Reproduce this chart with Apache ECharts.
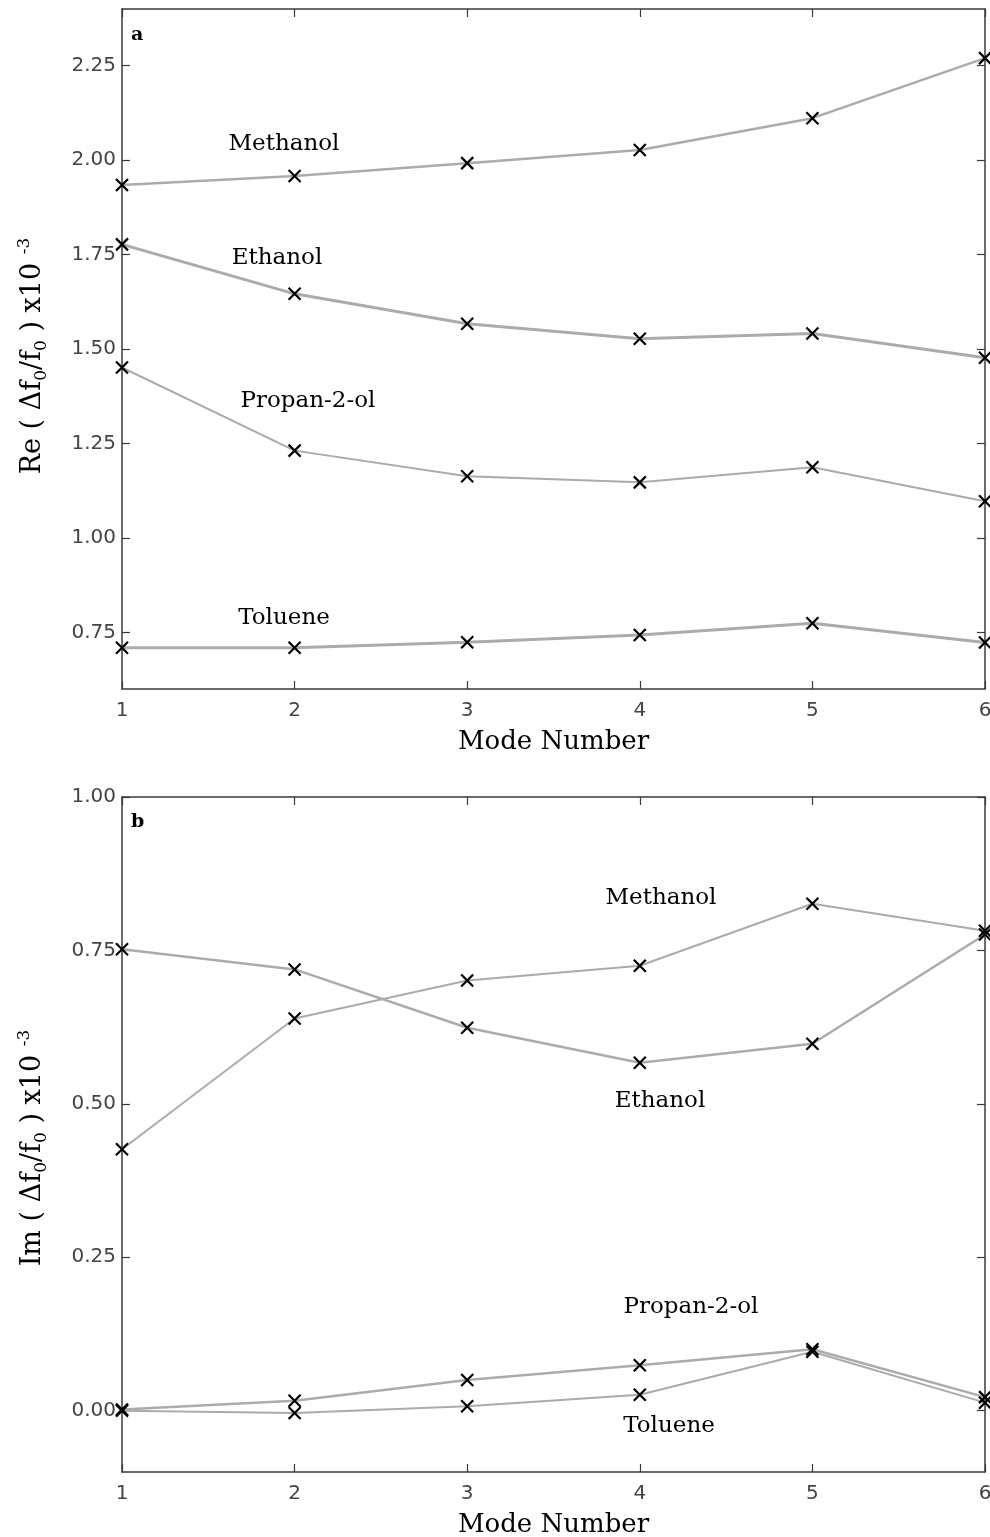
<!DOCTYPE html>
<html>
<head>
<meta charset="utf-8">
<script src="https://cdn.jsdelivr.net/npm/echarts@6/dist/echarts.min.js"></script>
<style>
html,body{margin:0;padding:0;background:#fff;overflow:hidden;}
#chart{width:990px;height:1537px;}
</style>
</head>
<body>
<div id="chart"></div>
<script>
// Mode numbers
var modes = [1, 2, 3, 4, 5, 6];
// Panel a: Re(Δf0/f0) x10^-3
var reMethanol = [1.934, 1.958, 1.992, 2.027, 2.111, 2.270];
var reEthanol  = [1.777, 1.646, 1.567, 1.527, 1.541, 1.477];
var rePropanol = [1.451, 1.231, 1.163, 1.147, 1.187, 1.097];
var reToluene  = [0.709, 0.709, 0.724, 0.743, 0.774, 0.723];
// Panel b: Im(Δf0/f0) x10^-3
var imMethanol = [0.426, 0.639, 0.701, 0.725, 0.826, 0.782];
var imEthanol  = [0.752, 0.719, 0.624, 0.567, 0.598, 0.776];
var imPropanol = [0.002, 0.016, 0.050, 0.074, 0.100, 0.022];
var imToluene  = [0.000, -0.004, 0.007, 0.026, 0.096, 0.013];
// Tick labels
var reTicks = [0.75, 1.00, 1.25, 1.50, 1.75, 2.00, 2.25];
var imTicks = [0.00, 0.25, 0.50, 0.75, 1.00];
var xTicks = [1, 2, 3, 4, 5, 6];

function pairs(ys) { return modes.map(function (m, i) { return [m, ys[i]]; }); }

var chart = echarts.init(document.getElementById('chart'), null, {renderer: 'canvas'});
var axisColor = '#3a3a3a';
var tickLabel = {fontFamily: 'DejaVu Sans', fontSize: 20, color: '#444'};
var serif = 'DejaVu Serif';

function xAxisPair(gi) {
  return [{
    gridIndex: gi, type: 'value', min: 1, max: 6, interval: 1, position: 'bottom',
    axisLine: {show: true, onZero: false, lineStyle: {color: axisColor, width: 1.5}},
    axisTick: {show: true, inside: true, length: 8, customValues: xTicks, lineStyle: {color: axisColor, width: 1.2}},
    axisLabel: Object.assign({margin: 12, customValues: xTicks, formatter: function (v) { return String(v); }}, tickLabel),
    splitLine: {show: false},
    name: 'Mode Number', nameLocation: 'middle', nameGap: 40,
    nameTextStyle: {fontFamily: serif, fontSize: 26, color: '#000'}
  }, {
    gridIndex: gi, type: 'value', min: 1, max: 6, interval: 1, position: 'top',
    axisLine: {show: true, onZero: false, lineStyle: {color: axisColor, width: 1.5}},
    axisTick: {show: true, inside: true, length: 8, customValues: xTicks, lineStyle: {color: axisColor, width: 1.2}},
    axisLabel: {show: false}, splitLine: {show: false}
  }];
}
function yAxisPair(gi, mn, mx, ticks) {
  return [{
    gridIndex: gi, type: 'value', min: mn, max: mx, position: 'left',
    axisLine: {show: true, onZero: false, lineStyle: {color: axisColor, width: 1.5}},
    axisTick: {show: true, inside: true, length: 8, customValues: ticks, lineStyle: {color: axisColor, width: 1.2}},
    axisLabel: Object.assign({margin: 6, customValues: ticks, formatter: function (v) { return v.toFixed(2); }}, tickLabel),
    splitLine: {show: false}
  }, {
    gridIndex: gi, type: 'value', min: mn, max: mx, position: 'right',
    axisLine: {show: true, onZero: false, lineStyle: {color: axisColor, width: 1.5}},
    axisTick: {show: true, inside: true, length: 8, customValues: ticks, lineStyle: {color: axisColor, width: 1.2}},
    axisLabel: {show: false}, splitLine: {show: false}
  }];
}
var xSym = 'path://M0,0L10,10M10,0L0,10';
function series(xi, yi, data, w) {
  return {
    type: 'line', xAxisIndex: xi, yAxisIndex: yi, data: pairs(data), clip: false,
    lineStyle: {color: '#ababab', width: w},
    symbol: xSym, symbolSize: 12, showSymbol: true,
    itemStyle: {color: 'rgba(0,0,0,0)', borderColor: '#000', borderWidth: 2.2},
    emphasis: {disabled: true}, animation: false, z: 3
  };
}
var rich = {
  m: {fontFamily: serif, fontSize: 27, color: '#000', lineHeight: 34, verticalAlign: 'middle'},
  s: {fontFamily: serif, fontSize: 17, color: '#000', lineHeight: 34, verticalAlign: 'bottom'},
  p: {fontFamily: serif, fontSize: 17, color: '#000', lineHeight: 34, verticalAlign: 'top'}
};
function ann(text, x, y) {
  return {type: 'text', x: x, y: y, z: 10,
    style: {text: text, font: '23px "DejaVu Serif"', fill: '#000', align: 'center', verticalAlign: 'middle'}};
}
var option = {
  animation: false,
  backgroundColor: '#fff',
  grid: [
    {left: 122, right: 5, top: 9, height: 680, containLabel: false, outerBoundsMode: 'none'},
    {left: 122, right: 5, top: 797, height: 675, containLabel: false, outerBoundsMode: 'none'}
  ],
  xAxis: xAxisPair(0).concat(xAxisPair(1)),
  yAxis: yAxisPair(0, 0.6, 2.4, reTicks).concat(yAxisPair(1, -0.1, 1.0, imTicks)),
  series: [
    series(0, 0, reMethanol, 2.5),
    series(0, 0, reEthanol, 3),
    series(0, 0, rePropanol, 2),
    series(0, 0, reToluene, 3),
    series(2, 2, imMethanol, 2),
    series(2, 2, imEthanol, 2.5),
    series(2, 2, imPropanol, 2.5),
    series(2, 2, imToluene, 2)
  ],
  graphic: [
    {type: 'text', x: 33, y: 356, rotation: Math.PI / 2, z: 10,
      style: {text: '{m|Re ( Δf}{s|0}{m|/f}{s|0}{m| ) x10 }{p|-3}', rich: rich, align: 'center', verticalAlign: 'middle'}},
    {type: 'text', x: 33, y: 1148, rotation: Math.PI / 2, z: 10,
      style: {text: '{m|Im ( Δf}{s|0}{m|/f}{s|0}{m| ) x10 }{p|-3}', rich: rich, align: 'center', verticalAlign: 'middle'}},
    {type: 'text', x: 131, y: 35, z: 10, style: {text: 'a', font: 'bold 19px "DejaVu Serif"', fill: '#000', align: 'left', verticalAlign: 'middle'}},
    {type: 'text', x: 131, y: 822, z: 10, style: {text: 'b', font: 'bold 19px "DejaVu Serif"', fill: '#000', align: 'left', verticalAlign: 'middle'}},
    ann('Methanol', 284, 144),
    ann('Ethanol', 277, 258),
    ann('Propan-2-ol', 308, 401),
    ann('Toluene', 284, 618),
    ann('Methanol', 661, 898),
    ann('Ethanol', 660, 1101),
    ann('Propan-2-ol', 691, 1307),
    ann('Toluene', 669, 1426)
  ]
};
chart.setOption(option);
</script>
</body>
</html>
